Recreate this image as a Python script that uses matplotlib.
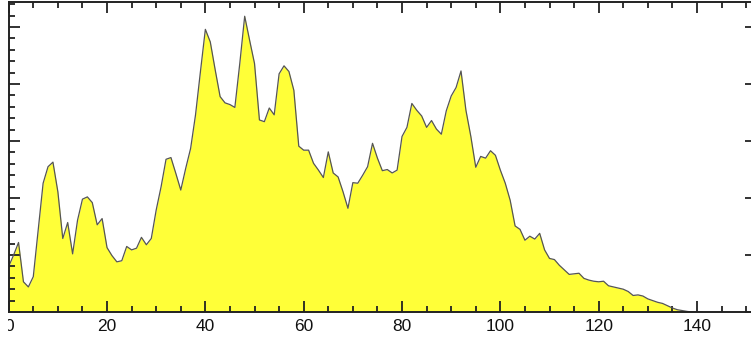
import matplotlib
matplotlib.use("Agg")
import matplotlib.pyplot as plt
from matplotlib.ticker import MultipleLocator
from matplotlib.transforms import Bbox
import numpy as np

x_values = list(range(0, 142))
y_values = [
    8.0, 10.0, 12.2, 5.3, 4.4, 6.2, 14.4, 22.6, 25.5, 26.3,
    21.1, 12.9, 15.7, 10.2, 16.1, 19.8, 20.2, 19.2, 15.3, 16.4,
    11.3, 9.9, 8.8, 9.0, 11.5, 10.9, 11.2, 13.1, 11.8, 12.9,
    17.9, 22.0, 26.8, 27.1, 24.3, 21.4, 25.2, 28.7, 34.6, 42.2,
    49.6, 47.4, 42.5, 37.8, 36.7, 36.4, 35.9, 43.6, 51.9, 47.7,
    43.6, 33.7, 33.4, 35.8, 34.6, 41.8, 43.2, 42.2, 38.9, 29.1,
    28.4, 28.4, 26.1, 24.9, 23.6, 28.1, 24.4, 23.7, 21.1, 18.2,
    22.7, 22.6, 24.0, 25.5, 29.6, 27.0, 24.8, 25.0, 24.4, 24.9,
    30.8, 32.4, 36.6, 35.4, 34.4, 32.4, 33.6, 32.1, 31.2, 35.3,
    37.9, 39.4, 42.3, 35.4, 30.8, 25.4, 27.3, 27.0, 28.3, 27.5,
    24.9, 22.6, 19.6, 15.1, 14.5, 12.6, 13.3, 12.8, 13.8, 10.9,
    9.4, 9.2, 8.2, 7.4, 6.6, 6.7, 6.8, 5.9, 5.6, 5.4,
    5.3, 5.4, 4.6, 4.4, 4.2, 4.0, 3.6, 2.9, 3.0, 2.8,
    2.3, 2.0, 1.7, 1.5, 1.1, 0.7, 0.4, 0.25, 0.1, 0.0,
    0.0, 0.0,
]
x_major_ticks = [0, 20, 40, 60, 80, 100, 120, 140]
x_tick_labels = ["0", "20", "40", "60", "80", "100", "120", "140"]

W, H = 751, 339
fig = plt.figure(figsize=(W / 100, H / 100), dpi=100)
ax = fig.add_axes([8.7 / W, (H - 312) / H, (756 - 8.7) / W, (312 - 2) / H])

x = np.array(x_values)
y = np.array(y_values)
ax.fill_between(x, 0, y, color="#ffff38", linewidth=0)
ax.plot(x, y, color="#555555", linewidth=0.9)

ax.set_xlim(0, 152)
ax.set_ylim(0, 54.4)
ax.set_xticks(x_major_ticks)
ax.set_xticklabels(x_tick_labels, family="Liberation Sans", fontsize=12.5)
ax.xaxis.set_minor_locator(MultipleLocator(5))
ax.yaxis.set_major_locator(MultipleLocator(10))
ax.yaxis.set_minor_locator(MultipleLocator(2))
ax.set_yticklabels([])

ax.tick_params(which="both", direction="in", top=True, right=True, bottom=True, left=True,
               color="#222222", width=1.3)
ax.tick_params(which="major", length=8)
ax.tick_params(which="minor", length=4)
ax.tick_params(axis="y", which="minor", right=False)
ax.tick_params(axis="x", which="major", pad=5, labelcolor="#111111")
for s in ax.spines.values():
    s.set_linewidth(1.4)
    s.set_color("#222222")

# the left part of the first label is cut in the reference
fig.canvas.draw()
lab0 = ax.get_xticklabels()[0]
lab0.set_clip_box(Bbox([[8.0, 0], [60, 40]]))
lab0.set_clip_on(True)

fig.savefig("out.png", dpi=100)
